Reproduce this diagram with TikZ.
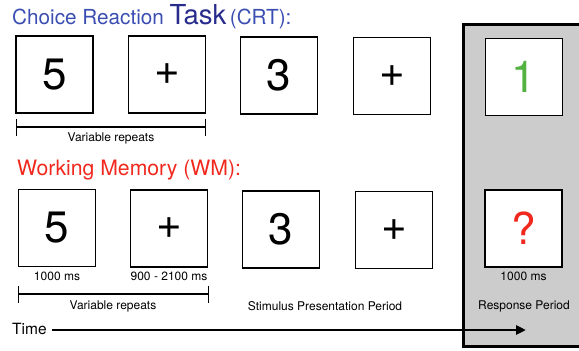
\documentclass[tikz,border=0pt]{standalone}
\usepackage{fontspec}
\setmainfont{TeX Gyre Heros}
\usepackage{tikz}
\usetikzlibrary{arrows.meta, positioning}

\definecolor{crtblue}{RGB}{58,78,178}
\definecolor{taskblue}{RGB}{40,44,140}
\definecolor{wmred}{RGB}{240,40,30}
\definecolor{okgreen}{RGB}{84,178,64}
\definecolor{panelgray}{RGB}{204,204,204}

\begin{document}
\begin{tikzpicture}[x=1pt, y=-1pt,
    screen/.style={shape=rectangle, draw=black, line width=1.6pt, fill=white,
        minimum size=77pt, inner sep=0pt, font=\fontsize{44}{44}\selectfont},
    note/.style={inner sep=0pt, font=\fontsize{12}{14}\selectfont},
    span/.style={line width=1.4pt, {Bar[width=17pt]}-{Bar[width=17pt]}},
]
\useasboundingbox (0,0) rectangle (579,351);

% response period panel
\draw[line width=3pt, fill=panelgray] (463,24) rectangle (590,346);

% headings
\node[anchor=base west, inner sep=0pt, font=\fontsize{20.7}{21}\selectfont] (crt) at (12,24)
    {\color{crtblue}Choice Reaction {\color{taskblue}\fontsize{27.5}{28}\selectfont Task}\,(CRT):};
\node[anchor=base west, inner sep=0pt, text=wmred, font=\fontsize{21.2}{22}\selectfont] (wm) at (17,175)
    {Working Memory (WM):};

% CRT trial
\node[screen] (crt1) at (54.5,74.5) {5};
\node[screen] (crt2) at (167,74.5) {+};
\node[screen] (crt3) at (279,75.5) {3};
\node[screen] (crt4) at (392,76) {+};
\node[screen, text=okgreen] (crt5) at (524,77) {1};

% WM trial
\node[screen] (wm1) at (57,228) {5};
\node[screen] (wm2) at (169,228.5) {+};
\node[screen] (wm3) at (281,229.5) {3};
\node[screen] (wm4) at (394,230) {+};
\node[screen, text=wmred] (wm5) at (523.5,228.5) {?};

% durations
\node[note, below=4pt of wm1] (d1) {1000 ms};
\node[note, below=4pt of wm2] (d2) {900 - 2100 ms};
\node[note, below=4pt of wm5] (d5) {1000 ms};

% repeat spans
\coordinate (crtL) at (16,127);
\coordinate (crtR) at (206,127);
\draw[span] (crtL) -- (crtR);
\node[note] (crtrep) at (111,138) {Variable repeats};

\coordinate (wmL) at (18,294);
\coordinate (wmR) at (209,294);
\draw[span] (wmL) -- (wmR);
\node[note] (wmrep) at (113,306) {Variable repeats};

\node[note] (stim) at (325,306) {Stimulus Presentation Period};
\node[note] (resp) at (524,306) {Response Period};

% time axis
\node[anchor=west, inner sep=0pt, font=\fontsize{15.5}{16}\selectfont] (time) at (12,329) {Time};
\coordinate (tend) at (526,330);
\draw[line width=2.8pt, -{Triangle[length=10pt, width=9pt]}] ([xshift=5pt]time.east |- tend) -- (tend);
\end{tikzpicture}
\end{document}
